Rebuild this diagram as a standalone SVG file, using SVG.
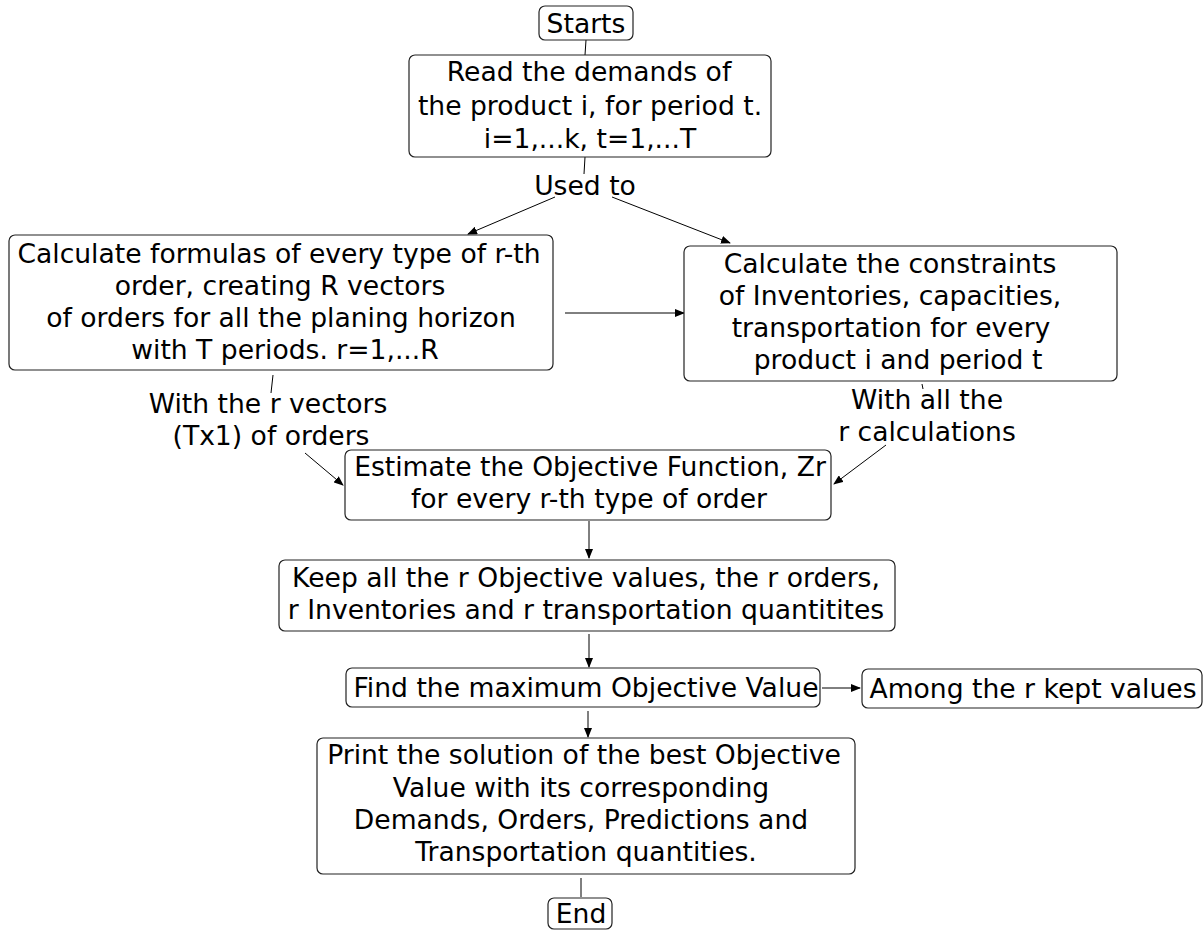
<svg xmlns="http://www.w3.org/2000/svg" width="1204" height="930" viewBox="0 0 1204 930">
<defs>
<marker id="ah" markerWidth="10" markerHeight="8" refX="9" refY="4" orient="auto" markerUnits="userSpaceOnUse">
<path d="M0,0 L10,4 L0,8 Z" fill="#000"/>
</marker>
<style>
.box{fill:#fff;stroke:#222;stroke-width:1.2}
.t{font-family:"DejaVu Sans",Verdana,sans-serif;font-size:26.6px;fill:#000;text-anchor:middle}
.c{stroke:#000;stroke-width:1;fill:none}
.a{stroke:#000;stroke-width:1;fill:none;marker-end:url(#ah)}
</style>
</defs>
<rect width="1204" height="930" fill="#fff"/>
<g id="connectors">
<line class="c" x1="586" y1="40" x2="585" y2="55"/>
<line class="c" x1="585" y1="157" x2="584" y2="174"/>
<line class="a" x1="555" y1="197" x2="468" y2="234"/>
<line class="a" x1="612" y1="197" x2="730" y2="243"/>
<line class="a" x1="565" y1="313" x2="684" y2="313"/>
<line class="c" x1="273" y1="375" x2="271" y2="393"/>
<line class="a" x1="305" y1="453" x2="343" y2="485"/>
<line class="c" x1="922" y1="384" x2="923" y2="389"/>
<line class="a" x1="886" y1="445" x2="834" y2="484"/>
<line class="a" x1="589" y1="521" x2="589" y2="558"/>
<line class="a" x1="589" y1="634" x2="589" y2="667"/>
<line class="a" x1="822" y1="688" x2="860" y2="688"/>
<line class="a" x1="588" y1="711" x2="588" y2="737"/>
<line class="c" x1="581" y1="878" x2="581" y2="897"/>
</g>
<g id="starts">
<rect class="box" x="539" y="6" width="94" height="34" rx="6"/>
<text class="t" x="586" y="33">Starts</text>
</g>
<g id="read">
<rect class="box" x="409" y="55" width="362" height="102" rx="6"/>
<text class="t" x="589" y="81">Read the demands of</text>
<text class="t" x="590" y="115">the product i, for period t.</text>
<text class="t" x="590" y="148">i=1,...k, t=1,...T</text>
</g>
<g id="used-to">
<text class="t" x="585" y="195">Used to</text>
</g>
<g id="calc-formulas">
<rect class="box" x="9" y="235" width="544" height="135" rx="6"/>
<text class="t" x="279" y="263">Calculate formulas of every type of r-th</text>
<text class="t" x="280" y="295">order, creating R vectors</text>
<text class="t" x="281" y="327">of orders for all the planing horizon</text>
<text class="t" x="285" y="359">with T periods. r=1,...R</text>
</g>
<g id="calc-constraints">
<rect class="box" x="684" y="246" width="433" height="135" rx="6"/>
<text class="t" x="890" y="273">Calculate the constraints</text>
<text class="t" x="890" y="305">of Inventories, capacities,</text>
<text class="t" x="891" y="337">transportation for every</text>
<text class="t" x="898" y="369">product i and period t</text>
</g>
<g id="label-vectors">
<text class="t" x="268" y="413">With the r vectors</text>
<text class="t" x="271" y="445">(Tx1) of orders</text>
</g>
<g id="label-calculations">
<text class="t" x="927" y="409">With all the</text>
<text class="t" x="927" y="441">r calculations</text>
</g>
<g id="estimate">
<rect class="box" x="345" y="450" width="486" height="70" rx="6"/>
<text class="t" x="590" y="476">Estimate the Objective Function, Zr</text>
<text class="t" x="589" y="508">for every r-th type of order</text>
</g>
<g id="keep">
<rect class="box" x="279" y="560" width="616" height="71" rx="6"/>
<text class="t" x="586" y="587">Keep all the r Objective values, the r orders,</text>
<text class="t" x="586" y="619">r Inventories and r transportation quantitites</text>
</g>
<g id="find">
<rect class="box" x="346" y="668" width="474" height="39" rx="6"/>
<text class="t" x="586" y="697">Find the maximum Objective Value</text>
</g>
<g id="among">
<rect class="box" x="862" y="669" width="340" height="39" rx="6"/>
<text class="t" x="1033" y="698">Among the r kept values</text>
</g>
<g id="print">
<rect class="box" x="317" y="738" width="538" height="136" rx="6"/>
<text class="t" x="584" y="764">Print the solution of the best Objective</text>
<text class="t" x="581" y="797">Value with its corresponding</text>
<text class="t" x="581" y="829">Demands, Orders, Predictions and</text>
<text class="t" x="586" y="861">Transportation quantities.</text>
</g>
<g id="end">
<rect class="box" x="548" y="898" width="64" height="31" rx="6"/>
<text class="t" x="581" y="923">End</text>
</g>
</svg>
